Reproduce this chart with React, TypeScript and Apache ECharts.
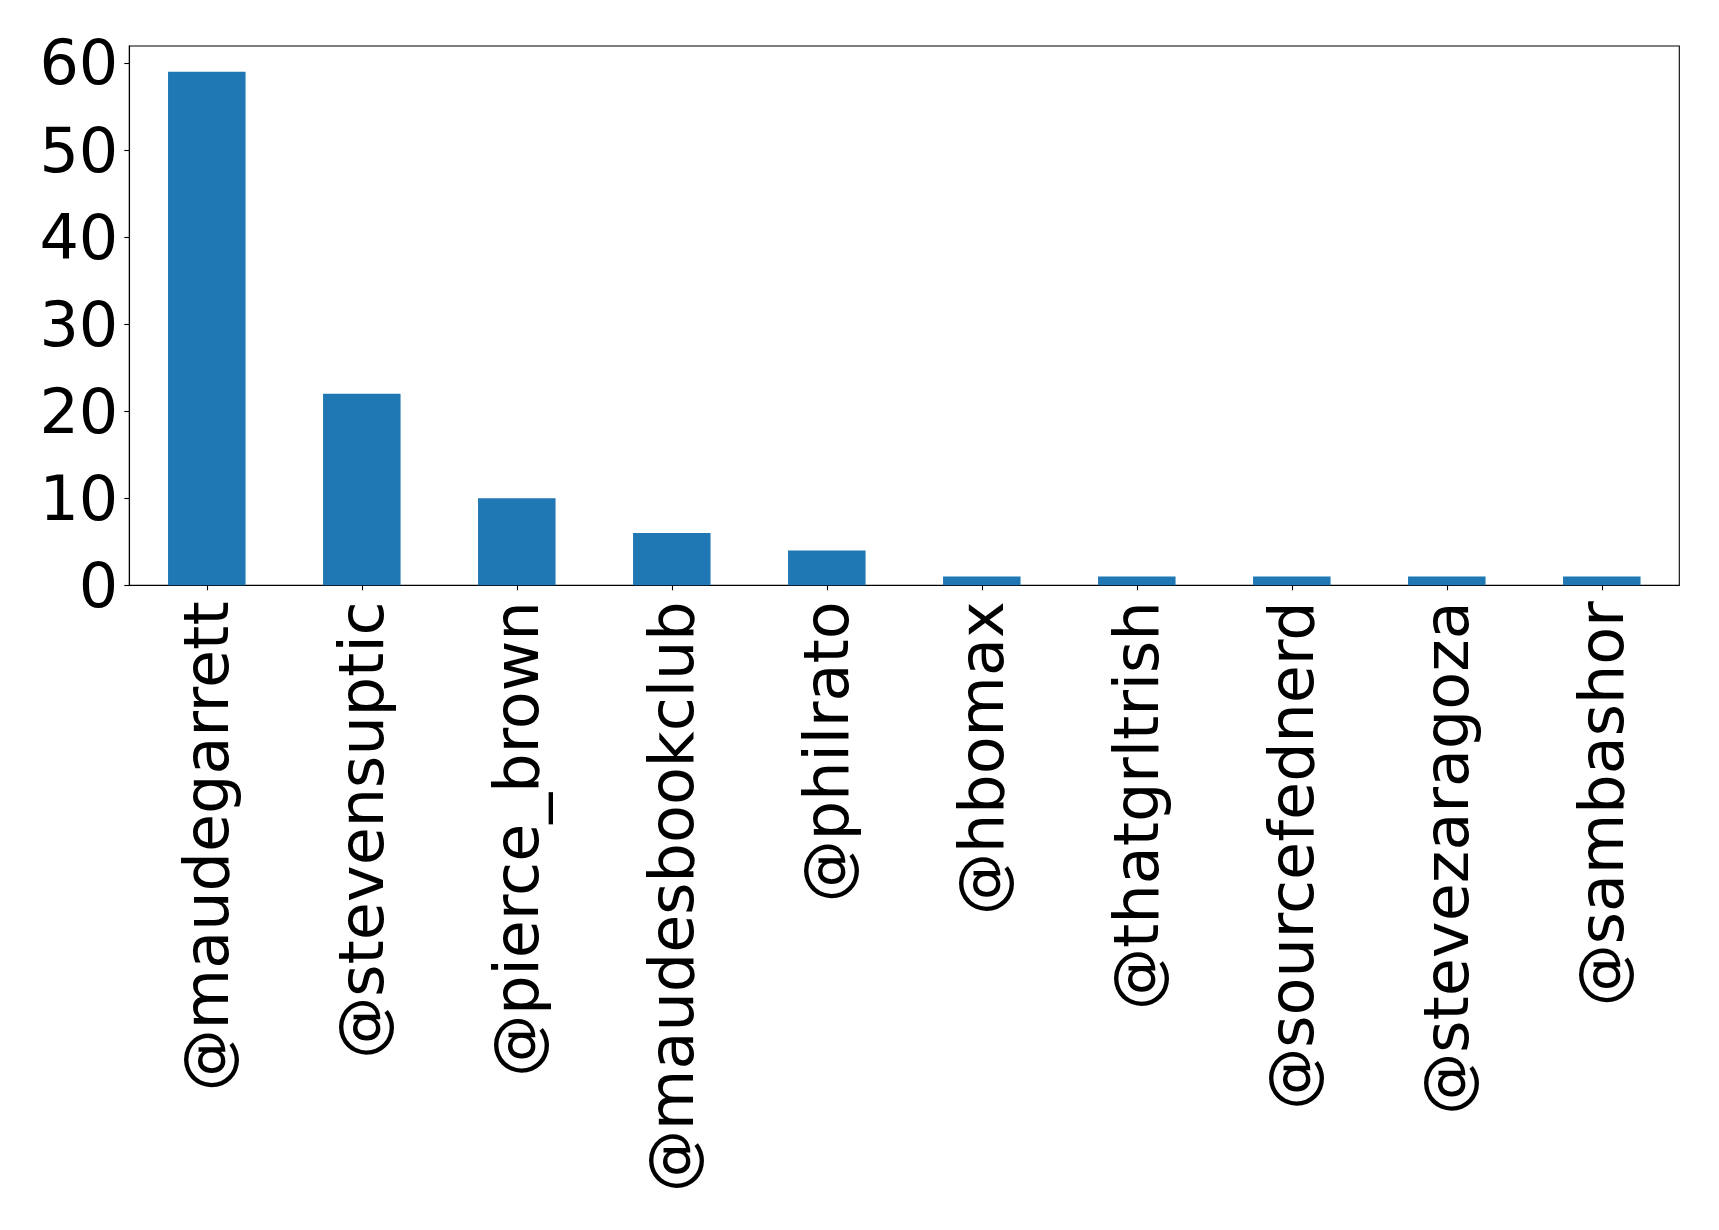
import React, { useEffect, useRef } from "react";
import * as echarts from "echarts";

const categories = [
  "@maudegarrett",
  "@stevensuptic",
  "@pierce_brown",
  "@maudesbookclub",
  "@philrato",
  "@hbomax",
  "@thatgrltrish",
  "@sourcefednerd",
  "@stevezaragoza",
  "@sambashor",
];
const counts = [59, 22, 10, 6, 4, 1, 1, 1, 1, 1];
const yTicks = [0, 10, 20, 30, 40, 50, 60];
const yMax = 61.95;

export default function App() {
  const ref = useRef<HTMLDivElement>(null);
  useEffect(() => {
    if (!ref.current) return;
    const chart = echarts.init(ref.current, null, { renderer: "svg" });
    const font = "DejaVu Sans";
    chart.setOption({
      animation: false,
      backgroundColor: "#ffffff",
      grid: {
        left: 129.3,
        top: 46,
        right: 39.7,
        bottom: 644.7,
        show: true,
        borderColor: "#000000",
        borderWidth: 1.1,
        containLabel: false,
      },
      xAxis: {
        type: "category",
        data: categories,
        boundaryGap: true,
        axisLine: { show: true, lineStyle: { color: "#000", width: 1.1 } },
        axisTick: { show: true, alignWithLabel: true, length: 5, lineStyle: { color: "#000", width: 1.1 } },
        axisLabel: {
          rotate: 90,
          interval: 0,
          margin: 16,
          color: "#000",
          fontFamily: font,
          fontSize: 62,
        },
        splitLine: { show: false },
      },
      yAxis: {
        type: "value",
        min: 0,
        max: yMax,
        interval: 10,
        axisLine: { show: true, lineStyle: { color: "#000", width: 1.1 } },
        axisTick: { show: true, length: 5, lineStyle: { color: "#000", width: 1.1 }, customValues: yTicks },
        axisLabel: {
          margin: 11,
          color: "#000",
          fontFamily: font,
          fontSize: 62,
          customValues: yTicks,
        },
        splitLine: { show: false },
      },
      series: [
        {
          type: "bar",
          data: counts,
          barWidth: "50%",
          itemStyle: { color: "#1f77b4" },
        },
      ],
    });
    return () => chart.dispose();
  }, []);
  return (
    <div
      ref={ref}
      style={{ position: "fixed", left: 0, top: 0, width: 1719, height: 1230, background: "#fff" }}
    />
  );
}
